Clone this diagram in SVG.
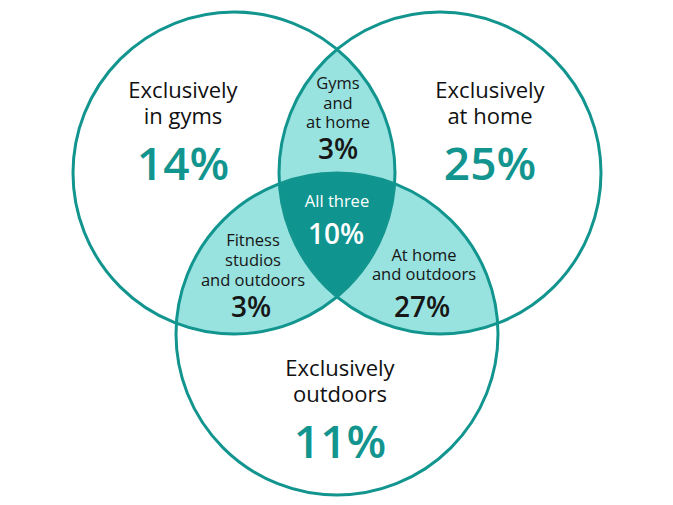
<svg xmlns="http://www.w3.org/2000/svg" width="673" height="505" viewBox="0 0 673 505">
  <style>
    .ring { fill: none; stroke: #12958f; stroke-width: 3; }
    .light { fill: #98e2df; }
    .dark { fill: #10948f; }
    text { font-family: "Open Sans", "Liberation Sans", sans-serif; text-anchor: middle; }
    .lbl { font-size: 22px; fill: #111111; }
    .big { font-size: 46px; font-weight: 600; fill: #13958f; }
    .sm { font-size: 16.5px; fill: #161616; }
    .mid { font-size: 28px; font-weight: 600; fill: #161616; }
    .w { fill: #ffffff; }
  </style>
  <defs>
    <clipPath id="cA"><circle cx="234" cy="173" r="161"/></clipPath>
    <clipPath id="cB"><circle cx="440" cy="173" r="161"/></clipPath>
  </defs>
  <rect width="673" height="505" fill="#ffffff"/>

  <g id="overlaps">
    <g clip-path="url(#cA)"><circle class="light" cx="440" cy="173" r="161"/></g>
    <g clip-path="url(#cA)"><circle class="light" cx="337" cy="334" r="161"/></g>
    <g clip-path="url(#cB)"><circle class="light" cx="337" cy="334" r="161"/></g>
    <g clip-path="url(#cA)"><g clip-path="url(#cB)"><circle class="dark" cx="337" cy="334" r="161"/></g></g>
  </g>

  <g id="gyms">
    <circle class="ring" cx="234" cy="173" r="161"/>
    <text class="lbl" x="183" y="98">Exclusively</text>
    <text class="lbl" x="183" y="124">in gyms</text>
    <text class="big" x="183" y="180">14%</text>
  </g>
  <g id="home">
    <circle class="ring" cx="440" cy="173" r="161"/>
    <text class="lbl" x="490" y="98">Exclusively</text>
    <text class="lbl" x="490" y="124">at home</text>
    <text class="big" x="490" y="180">25%</text>
  </g>
  <g id="outdoors">
    <circle class="ring" cx="337" cy="334" r="161"/>
    <text class="lbl" x="340" y="376">Exclusively</text>
    <text class="lbl" x="340" y="402">outdoors</text>
    <text class="big" x="340" y="458">11%</text>
  </g>

  <g id="gyms-home">
    <text class="sm" x="338" y="89">Gyms</text>
    <text class="sm" x="338" y="109">and</text>
    <text class="sm" x="338" y="128">at home</text>
    <text class="mid" x="338" y="159">3%</text>
  </g>
  <g id="all-three">
    <text class="sm w" x="337" y="207">All three</text>
    <text class="mid w" x="336" y="244">10%</text>
  </g>
  <g id="studios-outdoors">
    <text class="sm" x="253" y="246">Fitness</text>
    <text class="sm" x="253" y="266">studios</text>
    <text class="sm" x="253" y="286">and outdoors</text>
    <text class="mid" x="251" y="317">3%</text>
  </g>
  <g id="home-outdoors">
    <text class="sm" x="424" y="261">At home</text>
    <text class="sm" x="424" y="280">and outdoors</text>
    <text class="mid" x="422" y="317">27%</text>
  </g>
</svg>
